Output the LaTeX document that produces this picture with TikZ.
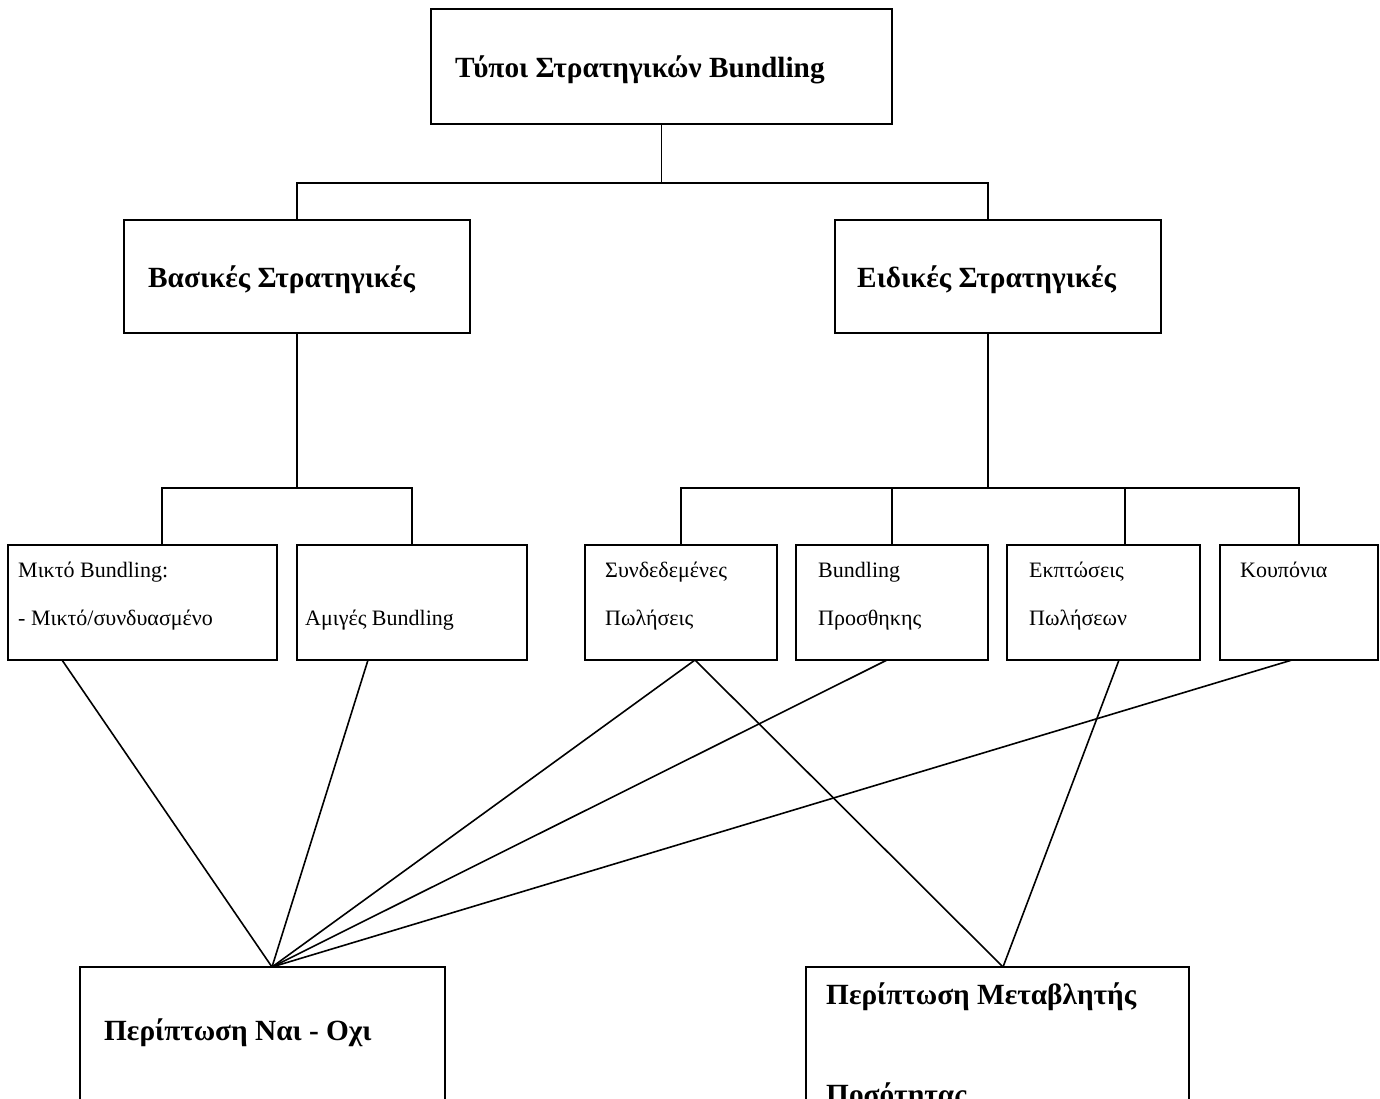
\documentclass[tikz,border=0pt]{standalone}
\usepackage{fontspec}
\setmainfont{Liberation Serif}
\usetikzlibrary{calc}
\begin{document}
\begin{tikzpicture}[x=1pt,y=-1pt,
  box/.style={draw,line width=1.6pt,inner sep=0pt,outer sep=0pt,anchor=north west},
  big/.style={inner sep=0pt,anchor=base west,font=\fontsize{29.3}{34}\selectfont\bfseries},
  small/.style={inner sep=0pt,anchor=base west,font=\fontsize{22}{26}\selectfont},
  conn/.style={line width=1.6pt}]
\useasboundingbox (0,0) rectangle (1380,1099);
\clip (0,0) rectangle (1380,1099);
\fill[white] (0,0) rectangle (1380,1099);
% boxes
\node[box,minimum width=461pt,minimum height=115pt] (top) at (431,9) {};
\node[box,minimum width=346pt,minimum height=113pt] (bas) at (124,220) {};
\node[box,minimum width=326pt,minimum height=113pt] (eid) at (835,220) {};
\node[box,minimum width=269pt,minimum height=115pt] (l1) at (8,545) {};
\node[box,minimum width=230pt,minimum height=115pt] (l2) at (297,545) {};
\node[box,minimum width=192pt,minimum height=115pt] (l3) at (585,545) {};
\node[box,minimum width=192pt,minimum height=115pt] (l4) at (796,545) {};
\node[box,minimum width=193pt,minimum height=115pt] (l5) at (1007,545) {};
\node[box,minimum width=158pt,minimum height=115pt] (l6) at (1220,545) {};
\node[box,minimum width=365pt,minimum height=180pt] (yes) at (80,967) {};
\node[box,minimum width=383pt,minimum height=180pt] (var) at (806,967) {};
% texts
\node[big] (ttop) at (455,78) {Τύποι Στρατηγικών Bundling};
\node[big] (tbas) at (148,287) {Βασικές Στρατηγικές};
\node[big] (teid) at (857,287) {Ειδικές Στρατηγικές};
\node[small] (tl1a) at (18,577) {Μικτό Bundling:};
\node[small] (tl1b) at (18,625) {- Μικτό/συνδυασμένο};
\node[small] (tl2) at (305,625) {Αμιγές Bundling};
\node[small] (tl3a) at (605,577) {Συνδεδεμένες};
\node[small] (tl3b) at (605,625) {Πωλήσεις};
\node[small] (tl4a) at (818,577) {Bundling};
\node[small] (tl4b) at (818,625) {Προσθηκης};
\node[small] (tl5a) at (1029,577) {Εκπτώσεις};
\node[small] (tl5b) at (1029,625) {Πωλήσεων};
\node[small] (tl6) at (1240,577) {Κουπόνια};
\node[big] (tyes) at (104,1040) {Περίπτωση Ναι - Οχι};
\node[big] (tvara) at (826,1004) {Περίπτωση Μεταβλητής};
\node[big] (tvarb) at (826,1104) {Ποσότητας};
% tree connectors
\coordinate (j1) at ($(top.south)+(0,59)$);
\coordinate (eidN) at ($(eid.north west)+(153,0)$);
\coordinate (eidS) at ($(eid.south west)+(153,0)$);
\coordinate (l1N) at ($(l1.north west)+(154,0)$);
\coordinate (l5N) at ($(l5.north west)+(118,0)$);
\coordinate (j2) at ($(bas.south)+(0,155)$);
\coordinate (j3) at ($(eidS)+(0,155)$);
\draw[conn] (top.south) -- (j1);
\draw[conn] (bas.north) |- (j1) -| (eidN);
\draw[conn] (bas.south) -- (j2);
\draw[conn] (l1N) |- (j2) -| (l2.north);
\draw[conn] (eidS) -- (j3);
\draw[conn] (l3.north) |- (j3) -| (l6.north);
\draw[conn] (l4.north) -- (l4.north |- j3);
\draw[conn] (l5N) -- (l5N |- j3);
% cross connectors
\coordinate (yesT) at ($(yes.north west)+(192,0)$);
\coordinate (varT) at ($(var.north west)+(197,0)$);
\coordinate (l1S) at ($(l1.south west)+(54,0)$);
\coordinate (l2S) at ($(l2.south west)+(71,0)$);
\coordinate (l3S) at ($(l3.south west)+(110,0)$);
\coordinate (l4S) at ($(l4.south west)+(91,0)$);
\coordinate (l5S) at ($(l5.south west)+(112,0)$);
\coordinate (l6S) at ($(l6.south west)+(72,0)$);
\draw[conn] (l1S) -- (yesT);
\draw[conn] (l2S) -- (yesT);
\draw[conn] (l3S) -- (yesT);
\draw[conn] (l4S) -- (yesT);
\draw[conn] (l6S) -- (yesT);
\draw[conn] (l3S) -- (varT);
\draw[conn] (l5S) -- (varT);
\end{tikzpicture}
\end{document}
